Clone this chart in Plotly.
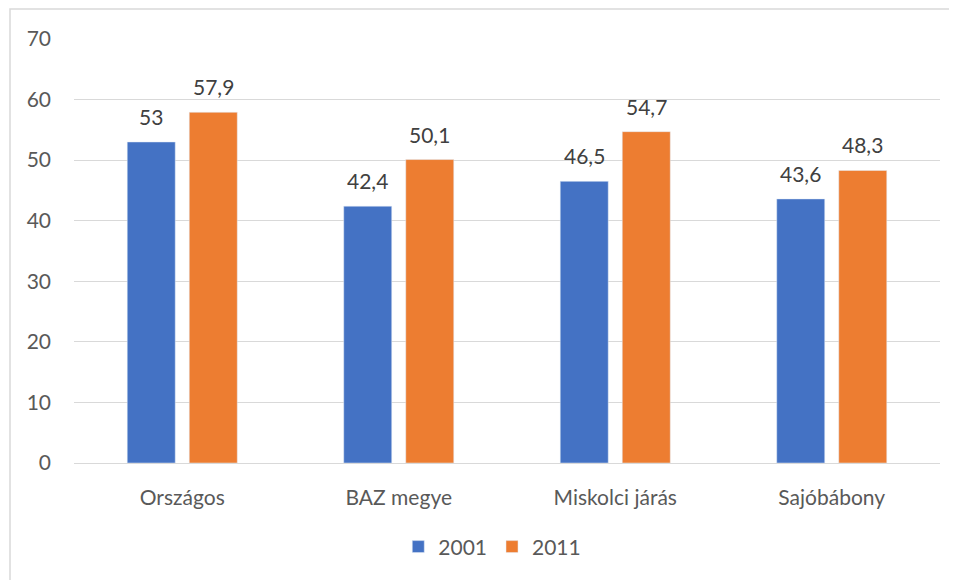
import plotly.graph_objects as go

categories = ["Országos", "BAZ megye", "Miskolci járás", "Sajóbábony"]
series_2001 = [53, 42.4, 46.5, 43.6]
series_2011 = [57.9, 50.1, 54.7, 48.3]
labels_2001 = ["53", "42,4", "46,5", "43,6"]
labels_2011 = ["57,9", "50,1", "54,7", "48,3"]
tick_vals = [0, 10, 20, 30, 40, 50, 60, 70]

FONT = "Lato, Carlito, Calibri, 'Noto Sans', sans-serif"
FS = 21

fig = go.Figure()
fig.add_trace(go.Bar(name="2001", x=categories, y=series_2001, marker_color="#4472C4"))
fig.add_trace(go.Bar(name="2011", x=categories, y=series_2011, marker_color="#ED7D31"))

annotations = []
for cats, vals, labs, shift in [(categories, series_2001, labels_2001, -31),
                                (categories, series_2011, labels_2011, 31)]:
    for c, v, t in zip(cats, vals, labs):
        annotations.append(dict(x=c, y=v, text=t, showarrow=False, xshift=shift, yshift=11,
                                yanchor="bottom", xanchor="center",
                                font=dict(family=FONT, size=FS, color="#404040")))

fig.update_layout(
    width=957, height=580,
    margin=dict(l=66, r=25, t=31, b=125),
    paper_bgcolor="white", plot_bgcolor="white",
    font=dict(family=FONT, size=FS, color="#595959"),
    barmode="group", bargap=0.427, bargroupgap=0.226,
    legend=dict(orientation="h", x=0.483, xanchor="center", y=-0.198, yanchor="middle",
                font=dict(size=FS, color="#595959"), itemwidth=30, traceorder="normal"),
    xaxis=dict(showgrid=False, showline=False, ticks="", ticklabelstandoff=20,
               tickfont=dict(size=FS, color="#595959")),
    yaxis=dict(range=[0, 70], tickvals=tick_vals, showgrid=True, gridcolor="#d9d9d9",
               gridwidth=1.3, zeroline=True, zerolinecolor="#d9d9d9", zerolinewidth=1.3,
               showline=False, ticks="", ticklabelstandoff=22,
               tickfont=dict(size=FS, color="#595959")),
    annotations=annotations,
    shapes=[dict(type="rect", xref="paper", yref="paper",
                 x0=-0.0739, x1=1.05, y0=-0.4, y1=1.0708,
                 line=dict(color="#d9d9d9", width=1.5), fillcolor="rgba(0,0,0,0)", layer="below")],
)

fig.write_html("out.html")
